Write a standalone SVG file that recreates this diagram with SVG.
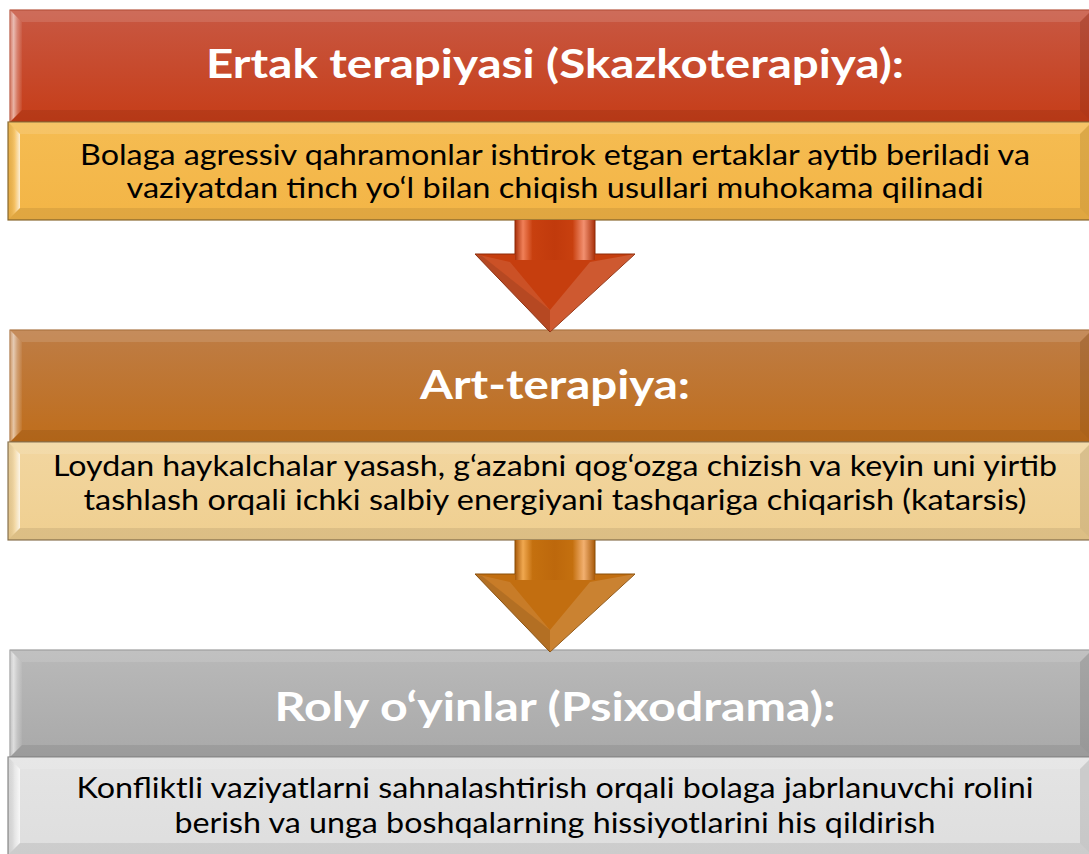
<svg xmlns="http://www.w3.org/2000/svg" width="1089" height="854" viewBox="0 0 1089 854">
<defs>
<linearGradient id="h1" x1="0" y1="0" x2="0" y2="1"><stop offset="0" stop-color="#c85843"/><stop offset="1" stop-color="#c63d18"/></linearGradient>
<linearGradient id="b1" x1="0" y1="0" x2="0" y2="1"><stop offset="0" stop-color="#f5bc52"/><stop offset="1" stop-color="#f3b546"/></linearGradient>
<linearGradient id="h2" x1="0" y1="0" x2="0" y2="1"><stop offset="0" stop-color="#be7d46"/><stop offset="1" stop-color="#bf6d1b"/></linearGradient>
<linearGradient id="b2" x1="0" y1="0" x2="0" y2="1"><stop offset="0" stop-color="#f2d6a0"/><stop offset="1" stop-color="#efcf90"/></linearGradient>
<linearGradient id="h3" x1="0" y1="0" x2="0" y2="1"><stop offset="0" stop-color="#b9b9b9"/><stop offset="1" stop-color="#a9a9a9"/></linearGradient>
<linearGradient id="b3" x1="0" y1="0" x2="0" y2="1"><stop offset="0" stop-color="#e4e4e4"/><stop offset="1" stop-color="#dedede"/></linearGradient>
<linearGradient id="hl" x1="0" y1="0" x2="1" y2="0"><stop offset="0" stop-color="#fff" stop-opacity="0.25"/><stop offset="0.3" stop-color="#fff" stop-opacity="0.6"/><stop offset="0.6" stop-color="#fff" stop-opacity="0.3"/><stop offset="1" stop-color="#fff" stop-opacity="0.05"/></linearGradient>
<linearGradient id="bl" x1="0" y1="0" x2="1" y2="0"><stop offset="0" stop-color="#000" stop-opacity="0.05"/><stop offset="0.55" stop-color="#fff" stop-opacity="0.15"/><stop offset="1" stop-color="#fff" stop-opacity="0.75"/></linearGradient>
<linearGradient id="s1" x1="0" y1="0" x2="1" y2="0"><stop offset="0" stop-color="#a8300a"/><stop offset="0.1" stop-color="#f08058"/><stop offset="0.22" stop-color="#c8400f"/><stop offset="0.5" stop-color="#c13a0c"/><stop offset="0.72" stop-color="#c8400f"/><stop offset="0.86" stop-color="#f29070"/><stop offset="1" stop-color="#a8300a"/></linearGradient>
<linearGradient id="s2" x1="0" y1="0" x2="1" y2="0"><stop offset="0" stop-color="#a85a0a"/><stop offset="0.1" stop-color="#f0a850"/><stop offset="0.22" stop-color="#c4700f"/><stop offset="0.5" stop-color="#bd680c"/><stop offset="0.72" stop-color="#c4700f"/><stop offset="0.86" stop-color="#f2b070"/><stop offset="1" stop-color="#a85a0a"/></linearGradient>
<style>
.t{fill:#fff;font-family:Lato,"Open Sans",sans-serif;font-weight:bold;font-size:40px;text-anchor:middle}
.d{fill:#000;font-family:Lato,"Open Sans",sans-serif;font-size:28.5px;text-anchor:middle}
.bt{fill:#fff;fill-opacity:0.12}
.br{fill:#000;fill-opacity:0.1}
.bb{fill:#000;fill-opacity:0.08}
.hl{fill:url(#hl)}
.bl{fill:url(#bl)}
.lf{fill:#fff;fill-opacity:0.1}
.rf{fill:#fff;fill-opacity:0.14}
.dk{fill:#000;fill-opacity:0.1}
</style>
</defs>
<rect width="1089" height="854" fill="#fff"/>

<g id="node-ertak">
<rect x="10" y="10" width="1082" height="112" fill="url(#h1)" stroke="#a8351a" stroke-width="1"/>
<polygon class="bt" points="10,10 1092,10 1080,22 22,22"/>
<polygon class="hl" points="10,10 22,22 22,110 10,122"/>
<polygon class="br" points="1092,10 1092,122 1080,110 1080,22"/>
<polygon class="bb" points="10,122 22,110 1080,110 1092,122"/>
<text class="t" x="555" y="78" textLength="698" lengthAdjust="spacingAndGlyphs">Ertak terapiyasi (Skazkoterapiya):</text>
<rect x="8" y="122" width="1084" height="98" fill="url(#b1)" stroke="#8a6a30" stroke-width="1.2"/>
<polygon class="bt" points="8,122 1092,122 1080,134 20,134"/>
<polygon class="bl" points="8,122 20,134 20,208 8,220"/>
<polygon class="br" points="1092,122 1092,220 1080,208 1080,134"/>
<polygon class="bb" points="8,220 20,208 1080,208 1092,220"/>
<text class="d" x="555" y="165" textLength="950" lengthAdjust="spacingAndGlyphs">Bolaga agressiv qahramonlar ishtirok etgan ertaklar aytib beriladi va</text>
<text class="d" x="555" y="198" textLength="857" lengthAdjust="spacingAndGlyphs">vaziyatdan tinch yo‘l bilan chiqish usullari muhokama qilinadi</text>
</g>

<g id="node-art">
<rect x="10" y="330" width="1082" height="112" fill="url(#h2)" stroke="#9a5a20" stroke-width="1"/>
<polygon class="bt" points="10,330 1092,330 1080,342 22,342"/>
<polygon class="hl" points="10,330 22,342 22,430 10,442"/>
<polygon class="br" points="1092,330 1092,442 1080,430 1080,342"/>
<polygon class="bb" points="10,442 22,430 1080,430 1092,442"/>
<text class="t" x="555" y="399" textLength="270" lengthAdjust="spacingAndGlyphs">Art-terapiya:</text>
<rect x="8" y="442" width="1084" height="98" fill="url(#b2)" stroke="#8a7450" stroke-width="1.2"/>
<polygon class="bt" points="8,442 1092,442 1080,454 20,454"/>
<polygon class="bl" points="8,442 20,454 20,528 8,540"/>
<polygon class="br" points="1092,442 1092,540 1080,528 1080,454"/>
<polygon class="bb" points="8,540 20,528 1080,528 1092,540"/>
<text class="d" x="555" y="476" textLength="1004" lengthAdjust="spacingAndGlyphs">Loydan haykalchalar yasash, g‘azabni qog‘ozga chizish va keyin uni yirtib</text>
<text class="d" x="555" y="510" textLength="943" lengthAdjust="spacingAndGlyphs">tashlash orqali ichki salbiy energiyani tashqariga chiqarish (katarsis)</text>
</g>

<g id="node-roly">
<rect x="10" y="650" width="1082" height="107" fill="url(#h3)" stroke="#8a8a8a" stroke-width="1"/>
<polygon class="bt" points="10,650 1092,650 1080,662 22,662"/>
<polygon class="hl" points="10,650 22,662 22,745 10,757"/>
<polygon class="br" points="1092,650 1092,757 1080,745 1080,662"/>
<polygon class="bb" points="10,757 22,745 1080,745 1092,757"/>
<text class="t" x="555" y="721" textLength="561" lengthAdjust="spacingAndGlyphs">Roly o‘yinlar (Psixodrama):</text>
<rect x="8" y="757" width="1084" height="98" fill="url(#b3)" stroke="#8a8a8a" stroke-width="1.2"/>
<polygon class="bt" points="8,757 1092,757 1080,769 20,769"/>
<polygon class="bl" points="8,757 20,769 20,843 8,855"/>
<polygon class="br" points="1092,757 1092,855 1080,843 1080,769"/>
<polygon class="bb" points="8,855 20,843 1080,843 1092,855"/>
<text class="d" x="555" y="798" textLength="957" lengthAdjust="spacingAndGlyphs">Konfliktli vaziyatlarni sahnalashtirish orqali bolaga jabrlanuvchi rolini</text>
<text class="d" x="555" y="833" textLength="761" lengthAdjust="spacingAndGlyphs">berish va unga boshqalarning hissiyotlarini his qildirish</text>
</g>

<g id="connectors">
<g id="arrow-1">
<polygon points="475,254 635,254 550,332" fill="#c63e0e" stroke="#8e2a08" stroke-width="1"/>
<polygon class="lf" points="475,254 510,262 550,310 550,332"/>
<polygon class="rf" points="635,254 590,262 550,310 550,332"/>
<polygon class="dk" points="550,310 550,332 475,254 482,256"/>
<rect x="515" y="220" width="80" height="40" fill="url(#s1)"/>
<line x1="515" y1="220" x2="515" y2="254" stroke="#8e2a08" stroke-width="1"/>
<line x1="595" y1="220" x2="595" y2="254" stroke="#8e2a08" stroke-width="1"/>
</g>
<g id="arrow-2">
<polygon points="475,574 635,574 550,652" fill="#c26e10" stroke="#8a4e08" stroke-width="1"/>
<polygon class="lf" points="475,574 510,582 550,630 550,652"/>
<polygon class="rf" points="635,574 590,582 550,630 550,652"/>
<polygon class="dk" points="550,630 550,652 475,574 482,576"/>
<rect x="515" y="540" width="80" height="40" fill="url(#s2)"/>
<line x1="515" y1="540" x2="515" y2="574" stroke="#8a4e08" stroke-width="1"/>
<line x1="595" y1="540" x2="595" y2="574" stroke="#8a4e08" stroke-width="1"/>
</g>
</g>
</svg>
